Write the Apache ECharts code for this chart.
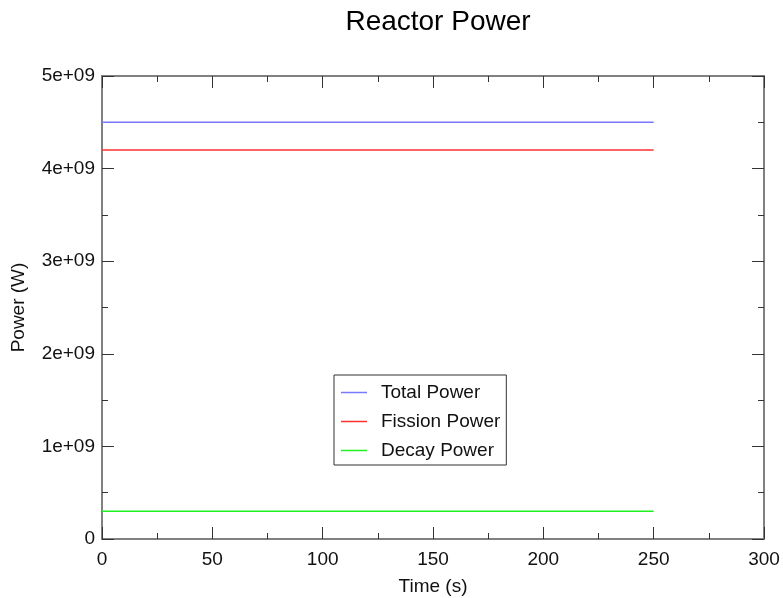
<!DOCTYPE html>
<html><head><meta charset="utf-8">
<script src="https://cdn.jsdelivr.net/npm/echarts@6/dist/echarts.min.js"></script>
<style>html,body{margin:0;padding:0;background:#fff}#c{width:783px;height:598px}</style>
</head><body><div id="c"></div>
<script>
const times = [0, 50, 100, 150, 200, 250];
const totalPower = [4.5e9, 4.5e9, 4.5e9, 4.5e9, 4.5e9, 4.5e9];
const fissionPower = [4.2e9, 4.2e9, 4.2e9, 4.2e9, 4.2e9, 4.2e9];
const decayPower = [0.3e9, 0.3e9, 0.3e9, 0.3e9, 0.3e9, 0.3e9];
const seriesNames = ['Total Power', 'Fission Power', 'Decay Power'];
const seriesColors = ['#7878ff', '#ff3030', '#20f020'];

const font = 'Liberation Sans, Arial, sans-serif';
const axisLineStyle = {color: '#808080', width: 2};
const tickStyle = {color: '#333', width: 1};

function pairs(vals) { return times.map((t, i) => [t, vals[i]]); }
function fmtY(v) {
  if (v === 0) return '0';
  const e = Math.floor(Math.log10(v));
  const m = Math.round(v / Math.pow(10, e));
  return m + 'e+' + (e < 10 ? '0' + e : e);
}

const chart = echarts.init(document.getElementById('c'), null, {renderer: 'canvas'});
function baseX() { return {type: 'value', min: 0, max: 300, interval: 50, splitLine: {show: false},
  axisLine: {show: true, onZero: false, lineStyle: axisLineStyle},
  axisTick: {show: true, inside: true, length: 12, lineStyle: tickStyle},
  minorTick: {show: true, splitNumber: 2, length: 6, lineStyle: tickStyle}}; }
function baseY() { return {type: 'value', min: 0, max: 5e9, interval: 1e9, splitLine: {show: false},
  axisLine: {show: true, onZero: false, lineStyle: axisLineStyle},
  axisTick: {show: true, inside: true, length: 12, lineStyle: tickStyle},
  minorTick: {show: true, splitNumber: 2, length: 6, lineStyle: tickStyle}}; }

chart.setOption({
  animation: false,
  backgroundColor: '#fff',
  title: {text: 'Reactor Power', left: 433, textAlign: 'center', top: 3,
    textStyle: {fontFamily: font, fontSize: 28, fontWeight: 'normal', color: '#000'}},
  grid: {left: 102, right: 19, top: 76, bottom: 59, containLabel: false, outerBoundsMode: 'none'},
  legend: {
    orient: 'vertical', left: 334, top: 375,
    data: seriesNames,
    icon: 'rect', itemWidth: 26, itemHeight: 1.5, itemGap: 10,
    padding: [8, 6, 5, 7],
    borderColor: '#333', borderWidth: 1, backgroundColor: '#fff',
    textStyle: {fontFamily: font, fontSize: 19, color: '#111', padding: [0, 0, 0, 9]}
  },
  xAxis: [
    Object.assign(baseX(), {position: 'bottom', name: 'Time (s)', nameLocation: 'middle', nameGap: 38,
      nameTextStyle: {fontFamily: font, fontSize: 19, color: '#111'},
      axisLabel: {fontFamily: font, fontSize: 19, color: '#111', margin: 11}}),
    Object.assign(baseX(), {position: 'top', axisLabel: {show: false}})
  ],
  yAxis: [
    Object.assign(baseY(), {position: 'left', name: 'Power (W)', nameLocation: 'middle', nameGap: 74,
      nameTextStyle: {fontFamily: font, fontSize: 19, color: '#111'},
      axisLabel: {fontFamily: font, fontSize: 19, color: '#111', margin: 7, formatter: fmtY}}),
    Object.assign(baseY(), {position: 'right', axisLabel: {show: false}})
  ],
  series: [
    {name: seriesNames[0], type: 'line', data: pairs(totalPower), showSymbol: false, symbol: 'none',
      lineStyle: {width: 1.5, color: seriesColors[0]}, itemStyle: {color: seriesColors[0]}},
    {name: seriesNames[1], type: 'line', data: pairs(fissionPower), showSymbol: false, symbol: 'none',
      lineStyle: {width: 1.5, color: seriesColors[1]}, itemStyle: {color: seriesColors[1]}},
    {name: seriesNames[2], type: 'line', data: pairs(decayPower), showSymbol: false, symbol: 'none',
      lineStyle: {width: 1.5, color: seriesColors[2]}, itemStyle: {color: seriesColors[2]}}
  ]
});
</script></body></html>
